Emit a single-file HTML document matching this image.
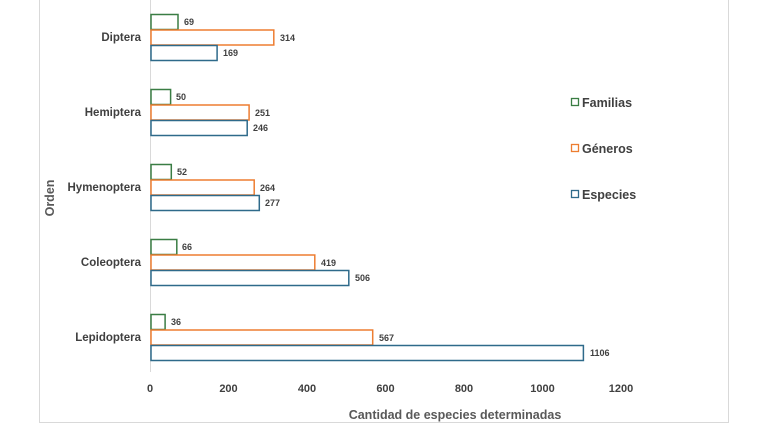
<!DOCTYPE html>
<html><head><meta charset="utf-8"><style>
body{margin:0;background:#fff;}
svg text{font-family:"Liberation Sans",Arial,sans-serif;font-weight:bold;fill:#404040;}
</style></head><body>
<svg width="768" height="432" viewBox="0 0 768 432" xmlns="http://www.w3.org/2000/svg">
<line x1="39.5" y1="0" x2="39.5" y2="422" stroke="#d9d9d9"/>
<line x1="728.5" y1="0" x2="728.5" y2="422" stroke="#d9d9d9"/>
<line x1="39" y1="422.5" x2="729" y2="422.5" stroke="#d9d9d9"/>
<line x1="150.5" y1="0" x2="150.5" y2="372" stroke="#d9d9d9"/>
<g font-size="11.5" text-anchor="end" style="fill:#4a4a4a">
<text x="141" y="41">Diptera</text>
<text x="141" y="116">Hemiptera</text>
<text x="141" y="191">Hymenoptera</text>
<text x="141" y="266">Coleoptera</text>
<text x="141" y="341">Lepidoptera</text>
</g>
<g fill="#fff" stroke-width="1.5">
<rect x="151" y="14.5" width="27" height="15" stroke="#3a7d44"/>
<rect x="151" y="30" width="122.8" height="15" stroke="#ed7d31"/>
<rect x="151" y="45.5" width="66.1" height="15" stroke="#2e6a8a"/>
<rect x="151" y="89.5" width="19.6" height="15" stroke="#3a7d44"/>
<rect x="151" y="105" width="98.1" height="15" stroke="#ed7d31"/>
<rect x="151" y="120.5" width="96.2" height="15" stroke="#2e6a8a"/>
<rect x="151" y="164.5" width="20.3" height="15" stroke="#3a7d44"/>
<rect x="151" y="180" width="103.2" height="15" stroke="#ed7d31"/>
<rect x="151" y="195.5" width="108.3" height="15" stroke="#2e6a8a"/>
<rect x="151" y="239.5" width="25.8" height="15" stroke="#3a7d44"/>
<rect x="151" y="255" width="163.8" height="15" stroke="#ed7d31"/>
<rect x="151" y="270.5" width="197.8" height="15" stroke="#2e6a8a"/>
<rect x="151" y="314.5" width="14.1" height="15" stroke="#3a7d44"/>
<rect x="151" y="330" width="221.7" height="15" stroke="#ed7d31"/>
<rect x="151" y="345.5" width="432.4" height="15" stroke="#2e6a8a"/>
</g>
<g font-size="9">
<text x="184" y="25">69</text><text x="280" y="41">314</text><text x="223" y="56">169</text>
<text x="176" y="100">50</text><text x="255" y="116">251</text><text x="253" y="131">246</text>
<text x="177" y="175">52</text><text x="260" y="191">264</text><text x="265" y="206">277</text>
<text x="182" y="250">66</text><text x="321" y="266">419</text><text x="355" y="281">506</text>
<text x="171" y="325">36</text><text x="379" y="341">567</text><text x="590" y="356">1106</text>
</g>
<g font-size="11" text-anchor="middle" style="fill:#595959">
<text x="150" y="392">0</text><text x="228.5" y="392">200</text><text x="307" y="392">400</text>
<text x="385.5" y="392">600</text><text x="464" y="392">800</text><text x="542.5" y="392">1000</text>
<text x="621" y="392">1200</text>
</g>
<text x="455" y="419" font-size="12.5" text-anchor="middle" style="fill:#595959">Cantidad de especies determinadas</text>
<text transform="translate(54,198) rotate(-90)" font-size="12.5" text-anchor="middle" style="fill:#595959">Orden</text>
<g font-size="12.5" style="fill:#595959">
<rect x="571.5" y="98.5" width="7" height="7" fill="#fff" stroke="#3a7d44" stroke-width="1.3"/>
<text x="582" y="107">Familias</text>
<rect x="571.5" y="144.5" width="7" height="7" fill="#fff" stroke="#ed7d31" stroke-width="1.3"/>
<text x="582" y="153">Géneros</text>
<rect x="571.5" y="190.5" width="7" height="7" fill="#fff" stroke="#2e6a8a" stroke-width="1.3"/>
<text x="582" y="199">Especies</text>
</g>
</svg>
</body></html>
